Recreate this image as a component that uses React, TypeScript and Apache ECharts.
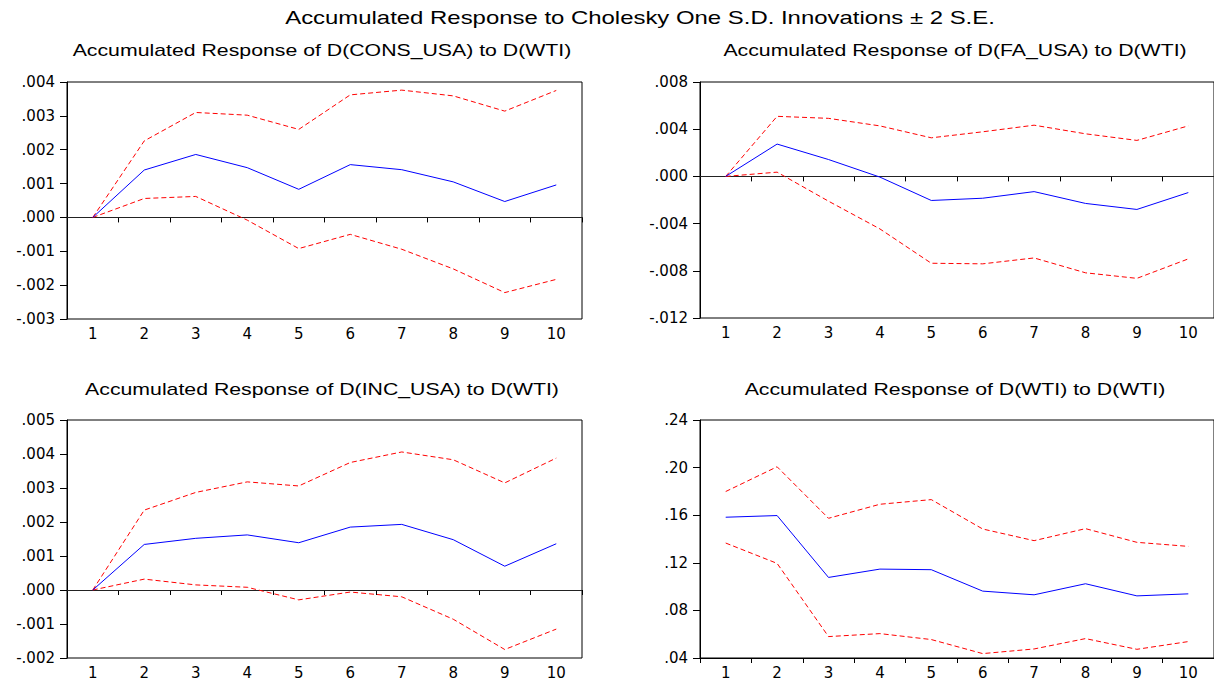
import React, { useEffect, useRef } from "react";
import * as echarts from "echarts";

const categories = ["1", "2", "3", "4", "5", "6", "7", "8", "9", "10"];

const consResp = [0, 0.0014, 0.00186, 0.00147, 0.00083, 0.00156, 0.00141, 0.00105, 0.00047, 0.00096];
const consUpper = [0, 0.00226, 0.0031, 0.00302, 0.0026, 0.00362, 0.00376, 0.00359, 0.00314, 0.00375];
const consLower = [0, 0.00056, 0.00062, -0.00008, -0.00092, -0.0005, -0.00094, -0.00152, -0.00222, -0.00183];

const faResp = [0, 0.00274, 0.00143, -0.00006, -0.00204, -0.00185, -0.00129, -0.00229, -0.0028, -0.00137];
const faUpper = [0, 0.00509, 0.00492, 0.00428, 0.00327, 0.00378, 0.00434, 0.00361, 0.00305, 0.00428];
const faLower = [0, 0.00036, -0.0021, -0.00445, -0.00736, -0.00741, -0.00691, -0.00817, -0.00864, -0.00699];

const incResp = [0, 0.00134, 0.00152, 0.00162, 0.00139, 0.00185, 0.00193, 0.00148, 0.0007, 0.00136];
const incUpper = [0, 0.00235, 0.00287, 0.00318, 0.00306, 0.00375, 0.00406, 0.00383, 0.00315, 0.00388];
const incLower = [0, 0.00032, 0.00015, 0.00008, -0.00029, -0.00006, -0.0002, -0.00086, -0.00175, -0.00115];

const wtiResp = [0.1583, 0.1597, 0.1077, 0.1147, 0.1142, 0.0962, 0.0931, 0.1024, 0.0922, 0.0939];
const wtiUpper = [0.1799, 0.2007, 0.1574, 0.1692, 0.1731, 0.1484, 0.1386, 0.1487, 0.1372, 0.1338];
const wtiLower = [0.1366, 0.1195, 0.058, 0.0605, 0.0555, 0.0437, 0.0476, 0.0563, 0.0473, 0.0538];

const mainTitle = "Accumulated Response to Cholesky One S.D. Innovations \u00b1 2 S.E.";
const panelTitles = [
  "Accumulated Response of D(CONS_USA) to D(WTI)",
  "Accumulated Response of D(FA_USA) to D(WTI)",
  "Accumulated Response of D(INC_USA) to D(WTI)",
  "Accumulated Response of D(WTI) to D(WTI)",
];

const yMins = [-0.003, -0.012, -0.002, 0.04];
const yMaxs = [0.004, 0.008, 0.005, 0.24];
const yIntervals = [0.001, 0.004, 0.001, 0.04];
const yDecimals = [3, 3, 3, 2];

const panelData = [
  [consUpper, consResp, consLower],
  [faUpper, faResp, faLower],
  [incUpper, incResp, incLower],
  [wtiUpper, wtiResp, wtiLower],
];
const showZero = [true, true, true, false];

export default function App() {
  const ref = useRef<HTMLDivElement>(null);
  useEffect(() => {
    document.body.style.margin = "0";
    const chart = echarts.init(ref.current!, undefined, { renderer: "svg" });
    const grids = [
      { left: 67, top: 82, width: 515, height: 237 },
      { left: 700, top: 82, width: 515, height: 236 },
      { left: 67, top: 420, width: 515, height: 238 },
      { left: 700, top: 420, width: 515, height: 238 },
    ].map((g) => ({ ...g, show: true, borderColor: "#000", borderWidth: 1, containLabel: false }));

    const axisFont = { color: "#000", fontFamily: "DejaVu Sans", fontSize: 15 };

    const xAxis = grids.map((_, i) => ({
      type: "category",
      gridIndex: i,
      data: categories,
      boundaryGap: true,
      axisLine: { show: true, lineStyle: { color: "#000", width: 1 } },
      axisTick: { show: true, inside: false, length: 5, lineStyle: { color: "#000" } },
      axisLabel: { ...axisFont, margin: 7, interval: 0 },
      splitLine: { show: false },
    }));

    const yAxis = grids.map((_, i) => ({
      type: "value",
      gridIndex: i,
      min: yMins[i],
      max: yMaxs[i],
      interval: yIntervals[i],
      axisLine: { show: true, lineStyle: { color: "#000", width: 1 } },
      axisTick: { show: true, inside: false, length: 7, lineStyle: { color: "#000" } },
      axisLabel: {
        ...axisFont,
        margin: 12,
        formatter: (v: number) => v.toFixed(yDecimals[i]).replace(/^(-?)0\./, "$1."),
      },
      splitLine: { show: false },
    }));

    const series: any[] = [];
    panelData.forEach((arrs, i) => {
      arrs.forEach((arr, k) => {
        const isResp = k === 1;
        const s: any = {
          type: "line",
          xAxisIndex: i,
          yAxisIndex: i,
          data: arr,
          symbol: "none",
          silent: true,
          lineStyle: isResp
            ? { color: "#0000ff", width: 1, type: "solid" }
            : { color: "#ff0000", width: 1, type: [5, 3] },
          z: isResp ? 4 : 3,
        };
        if (isResp && showZero[i]) {
          s.markLine = {
            silent: true,
            symbol: ["none", "none"],
            label: { show: false },
            lineStyle: { color: "#222", width: 1, type: "solid" },
            data: [{ yAxis: 0 }],
            z: 2,
          };
        }
        series.push(s);
      });
    });

    const titleCenters = [
      [322, 50],
      [955, 50],
      [322, 389],
      [955, 389],
    ];

    const textEl = (text: string, x: number, y: number, size: number) => ({
      type: "text",
      x,
      y,
      scaleX: 1.33,
      silent: true,
      style: {
        text,
        fill: "#000",
        fontFamily: "Liberation Sans, Arial, sans-serif",
        fontSize: size,
        align: "center",
        verticalAlign: "middle",
        textAlign: "center",
        textVerticalAlign: "middle",
      },
    });

    const graphic = [
      textEl(mainTitle, 640, 18, 18),
      ...panelTitles.map((t, i) => textEl(t, titleCenters[i][0], titleCenters[i][1], 16)),
    ];

    chart.setOption({
      animation: false,
      backgroundColor: "#fff",
      grid: grids,
      xAxis,
      yAxis,
      series,
      graphic,
    });
    return () => chart.dispose();
  }, []);
  return <div ref={ref} style={{ width: 1214, height: 682 }} />;
}
